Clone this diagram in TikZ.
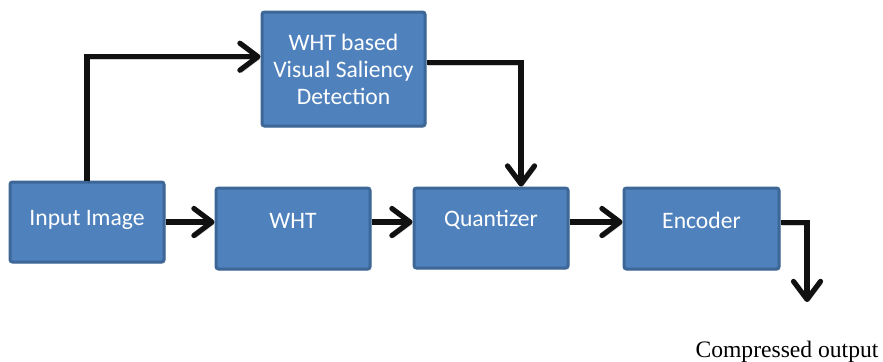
\documentclass[tikz,border=0pt]{standalone}
\usepackage{fontspec}
\setmainfont{Carlito}
\newfontfamily\serifcap{Liberation Serif}
\usetikzlibrary{arrows.meta,calc,shadows}
\definecolor{boxfill}{HTML}{4F81BD}
\definecolor{boxline}{HTML}{3D6797}
\definecolor{wire}{HTML}{111111}
\tikzset{
  boxfont/.style={font=\fontsize{11.8}{13.5}\selectfont},
  blockbox/.style={draw=boxline, fill=boxfill, line width=1.5pt, rounded corners=1.2pt,
    inner sep=0pt, text=white, boxfont,
    drop shadow={opacity=0.25, shadow xshift=0.8pt, shadow yshift=-0.8pt}},
  boxtext/.style={text=white, boxfont},
  flow/.style={draw=wire, line width=2.6pt, line join=miter,
    -{Straight Barb[length=9pt,width=13.5pt,line cap=round,line join=round]},
    preaction={draw=black, opacity=0.18, transform canvas={shift={(0.8pt,-1.2pt)}}}},
}
\begin{document}
\begin{tikzpicture}[x=0.5pt,y=-0.5pt]
\useasboundingbox (0,0) rectangle (883,361);

% processing blocks
\node[blockbox, minimum width=77pt, minimum height=40pt,
  label={[boxtext,yshift=1pt]center:Input Image}]
  (in) at (87,222) {};
\node[blockbox, minimum width=77pt, minimum height=40.5pt,
  label={[boxtext,yshift=4pt]center:WHT}]
  (wht) at (293,228.5) {};
\node[blockbox, minimum width=77pt, minimum height=40pt,
  label={[boxtext,yshift=4pt]center:Quantizer}]
  (q) at (491,228) {};
\node[blockbox, minimum width=77.5pt, minimum height=40.5pt,
  label={[boxtext,yshift=4pt]center:Encoder}]
  (enc) at (701.5,228.5) {};
\node[blockbox, minimum width=81.5pt, minimum height=57pt, align=center]
  (sal) at (343.5,69) {WHT based\\Visual Saliency\\Detection};

% output caption
\node[font=\serifcap\fontsize{11.8}{13}\selectfont, anchor=base] (cap) at (787,357) {Compressed output};
\coordinate (out) at (807,302);

% connectors
\draw[flow] (in.north) |- ($(sal.north west)!0.395!(sal.south west)$);
\draw[flow] ($(sal.north east)!0.447!(sal.south east)$) -| ([xshift=15pt]q.north);
\draw[flow] (in.east) -- (in.east -| wht.west);
\draw[flow] (in.east -| wht.east) -- (in.east -| q.west);
\draw[flow] (in.east -| q.east) -- (in.east -| enc.west);
\draw[flow] ($(enc.north east)!0.43!(enc.south east)$) -| (out);
\end{tikzpicture}
\end{document}
